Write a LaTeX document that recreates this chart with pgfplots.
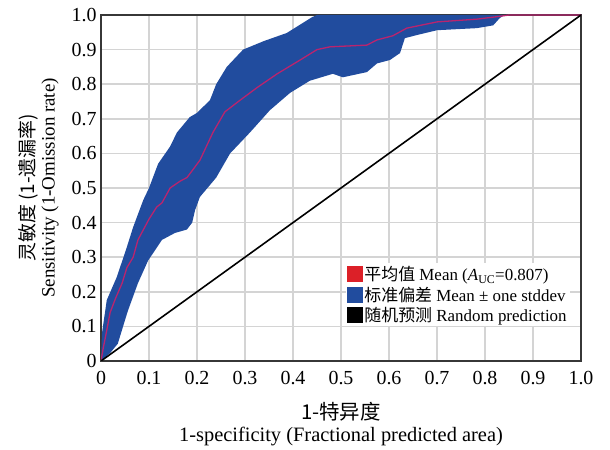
\documentclass[border=0pt]{standalone}
\usepackage{pgfplots}
\pgfplotsset{compat=1.18}
\usepgfplotslibrary{fillbetween}
\usepackage{fontspec}
\setmainfont{Liberation Serif}
\newfontfamily\cjk{Noto Sans CJK SC}
\definecolor{bandblue}{RGB}{33,76,158}
\definecolor{meanred}{RGB}{186,36,110}
\definecolor{legred}{RGB}{220,32,40}
\definecolor{gridgray}{RGB}{212,212,212}
\definecolor{framegray}{RGB}{55,55,55}
\begin{document}
\begin{tikzpicture}
\begin{axis}[
  scale only axis,
  width=480bp, height=346bp,
  xmin=0, xmax=1, ymin=0, ymax=1,
  xtick={0,0.1,...,1.0}, ytick={0,0.1,...,1.0},
  xticklabels={0,0.1,0.2,0.3,0.4,0.5,0.6,0.7,0.8,0.9,1.0},
  yticklabels={0,0.1,0.2,0.3,0.4,0.5,0.6,0.7,0.8,0.9,1.0},
  major tick length=0pt,
  grid=major,
  major grid style={gridgray, line width=1.5bp},
  axis line style={framegray, line width=1.7bp},
  /pgf/number format/assume math mode=true,
  tick label style={font=\fontsize{20}{20}\selectfont},
  xticklabel style={font=\fontsize{20}{20}\selectfont, yshift=-7bp},
  yticklabel style={font=\fontsize{20}{20}\selectfont, xshift=-1bp},
  xlabel={{\cjk 1-特异度}\\1-specificity (Fractional predicted area)},
  ylabel={{\cjk 灵敏度 (1-遗漏率)}\\Sensitivity (1-Omission rate)},
  xlabel style={font=\fontsize{20.5}{22}\selectfont, align=center, yshift=-10bp},
  ylabel style={font=\fontsize{19}{20}\selectfont, align=center, yshift=6bp},
  legend style={at={(0.51,0.283)}, anchor=north west, draw=none, fill=white,
    font=\fontsize{17}{19}\selectfont, row sep=1bp, inner sep=1bp},
  legend cell align=left,
]
\addplot[name path=up, draw=none, forget plot] coordinates {
(0,0) (0.002,0.08) (0.012,0.176) (0.033,0.243) (0.054,0.33) (0.067,0.387)
(0.088,0.465) (0.10,0.50) (0.119,0.57) (0.144,0.62) (0.158,0.66) (0.185,0.705)
(0.20,0.717) (0.227,0.754) (0.24,0.80) (0.262,0.85) (0.296,0.90) (0.34,0.925)
(0.387,0.948) (0.44,0.994) (0.45,1.0) (1.0,1.0)};
\addplot[name path=lo, draw=none, forget plot] coordinates {
(0,0) (0.019,0.023) (0.035,0.05) (0.046,0.10) (0.056,0.145) (0.077,0.225)
(0.098,0.29) (0.127,0.35) (0.154,0.37) (0.179,0.38) (0.19,0.40) (0.196,0.436)
(0.206,0.474) (0.24,0.53) (0.269,0.60) (0.31,0.66) (0.352,0.725) (0.394,0.775)
(0.435,0.81) (0.483,0.83) (0.504,0.82) (0.554,0.835) (0.575,0.86) (0.602,0.87)
(0.623,0.89) (0.633,0.933) (0.658,0.942) (0.70,0.956) (0.783,0.962) (0.817,0.97)
(0.83,0.99) (0.84,1.0) (1.0,1.0)};
\addplot[fill=bandblue, draw=none, forget plot] fill between[of=up and lo];
\addplot[meanred, line width=1.3bp, forget plot] coordinates {
(0,0) (0.005,0.04) (0.008,0.06) (0.019,0.14) (0.03,0.18) (0.044,0.225)
(0.054,0.27) (0.067,0.30) (0.077,0.35) (0.10,0.41) (0.116,0.445) (0.127,0.457)
(0.144,0.50) (0.165,0.52) (0.179,0.53) (0.206,0.58) (0.233,0.66) (0.258,0.72)
(0.29,0.754) (0.325,0.79) (0.367,0.83) (0.415,0.87) (0.45,0.90) (0.477,0.908)
(0.554,0.913) (0.575,0.928) (0.608,0.94) (0.637,0.962) (0.70,0.98) (0.783,0.988)
(0.83,0.996) (0.85,1.0) (1.0,1.0)};
\addplot[black, line width=1.6bp, forget plot] coordinates {(0,0) (1,1)};
\addlegendimage{legend image code/.code={\fill[legred] (0bp,-7bp) rectangle (15bp,8bp);}}
\addlegendentry{{\cjk 平均值} Mean (\textit{A}\textsubscript{UC}=0.807)}
\addlegendimage{legend image code/.code={\fill[bandblue] (0bp,-7bp) rectangle (15bp,8bp);}}
\addlegendentry{{\cjk 标准偏差} Mean ± one stddev}
\addlegendimage{legend image code/.code={\fill[black] (0bp,-7bp) rectangle (15bp,8bp);}}
\addlegendentry{{\cjk 随机预测} Random prediction}
\end{axis}
\path (current axis.south west) ++(-101bp,-89bp) rectangle ++(610bp,450bp);
\end{tikzpicture}
\end{document}
